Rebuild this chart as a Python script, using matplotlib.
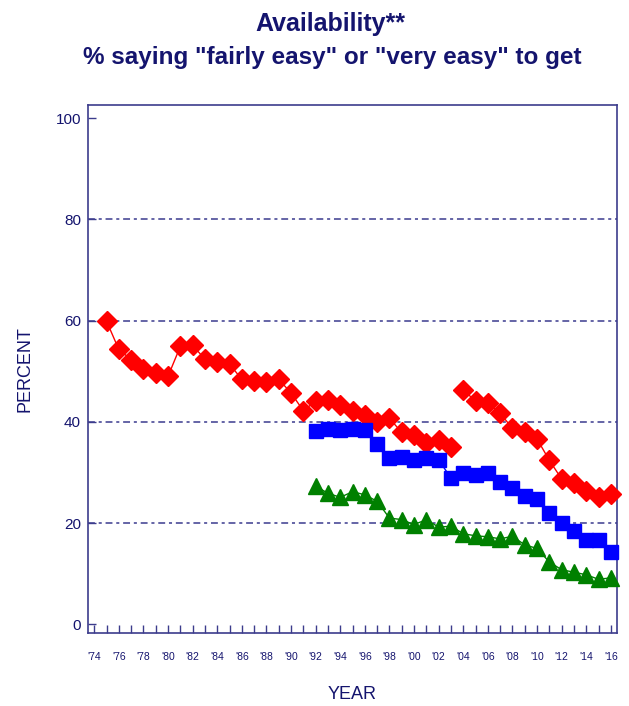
import matplotlib.pyplot as plt

plt.rcParams['font.family'] = ['Liberation Sans', 'DejaVu Sans']

NAVY = '#14146e'
AXIS = '#3c3c8c'

# red series, first question wording (1975-2003)
years_a = list(range(1975, 2004))
red_a = [59.9, 54.3, 52.3, 50.5, 49.7, 49.0, 54.9, 55.1, 52.4, 51.8,
         51.4, 48.4, 48.1, 47.9, 48.4, 45.7, 42.2, 44.1, 44.4, 43.3,
         42.2, 41.3, 39.9, 40.7, 37.9, 37.4, 35.8, 36.5, 35.1]

# red series, revised wording (2004-2016)
years_b = list(range(2004, 2017))
red_b = [46.3, 44.1, 43.8, 41.7, 38.7, 37.9, 36.6, 32.4, 28.7, 28.0,
         26.4, 25.1, 25.8]

years_c = list(range(1992, 2017))
blue = [38.1, 38.6, 38.4, 38.6, 38.3, 35.6, 32.8, 33.1, 32.5, 32.8,
        32.5, 28.9, 29.9, 29.5, 29.9, 28.2, 26.9, 25.4, 24.8, 22.0,
        20.0, 18.4, 16.7, 16.6, 14.2]
green = [27.3, 25.9, 25.1, 26.2, 25.6, 24.3, 21.0, 20.7, 19.7, 20.7,
         19.2, 19.4, 17.9, 17.5, 17.3, 16.9, 17.4, 15.7, 15.0, 12.3,
         10.8, 10.3, 9.8, 8.9, 9.2]

year_ticks = list(range(1974, 2017, 2))
year_labels = ["'%02d" % (y % 100) for y in year_ticks]

fig = plt.figure(figsize=(6.29, 7.06), dpi=100)
ax = fig.add_axes([0.14, 0.1034, 0.841, 0.748])

for y in [20, 40, 60, 80]:
    ax.axhline(y, color='#3a3a8e', lw=1.1, dashes=(4.5, 2.5, 2, 2.5), zorder=1)

ax.plot(years_a, red_a, color='red', lw=1, marker='D', ms=10, zorder=3, clip_on=False)
ax.plot(years_b, red_b, color='red', lw=1, marker='D', ms=10, zorder=3, clip_on=False)
ax.plot(years_c, blue, color='blue', lw=1, marker='s', ms=10, zorder=3, clip_on=False)
ax.plot(years_c, green, color='green', lw=1, marker='^', ms=11, zorder=3, clip_on=False)

ax.set_xlim(1973.5, 2016.5)
ax.set_ylim(-1.7, 102.6)
ax.set_yticks([0, 20, 40, 60, 80, 100])
ax.set_xticks(year_ticks)
ax.set_xticklabels(year_labels)
ax.set_xticks(range(1974, 2017), minor=True)

ax.tick_params(axis='x', which='both', direction='in', length=6, width=1,
               color=AXIS, pad=14, labelsize=7.5, labelcolor=NAVY)
ax.tick_params(axis='y', direction='in', length=6, width=1, color=AXIS,
               pad=5, labelsize=11, labelcolor=NAVY)

for s in ax.spines.values():
    s.set_color(AXIS)
    s.set_linewidth(1.2)

ax.set_ylabel('PERCENT', fontsize=13, color=NAVY, labelpad=16)
ax.set_xlabel('YEAR', fontsize=13, color=NAVY, labelpad=17)

fig.text(0.525, 0.966, 'Availability**', ha='center', va='center',
         fontsize=18, fontweight='bold', color=NAVY)
fig.text(0.529, 0.919, '% saying "fairly easy" or "very easy" to get',
         ha='center', va='center', fontsize=17.5, fontweight='bold', color=NAVY)

fig.savefig('out.png', dpi=100)
